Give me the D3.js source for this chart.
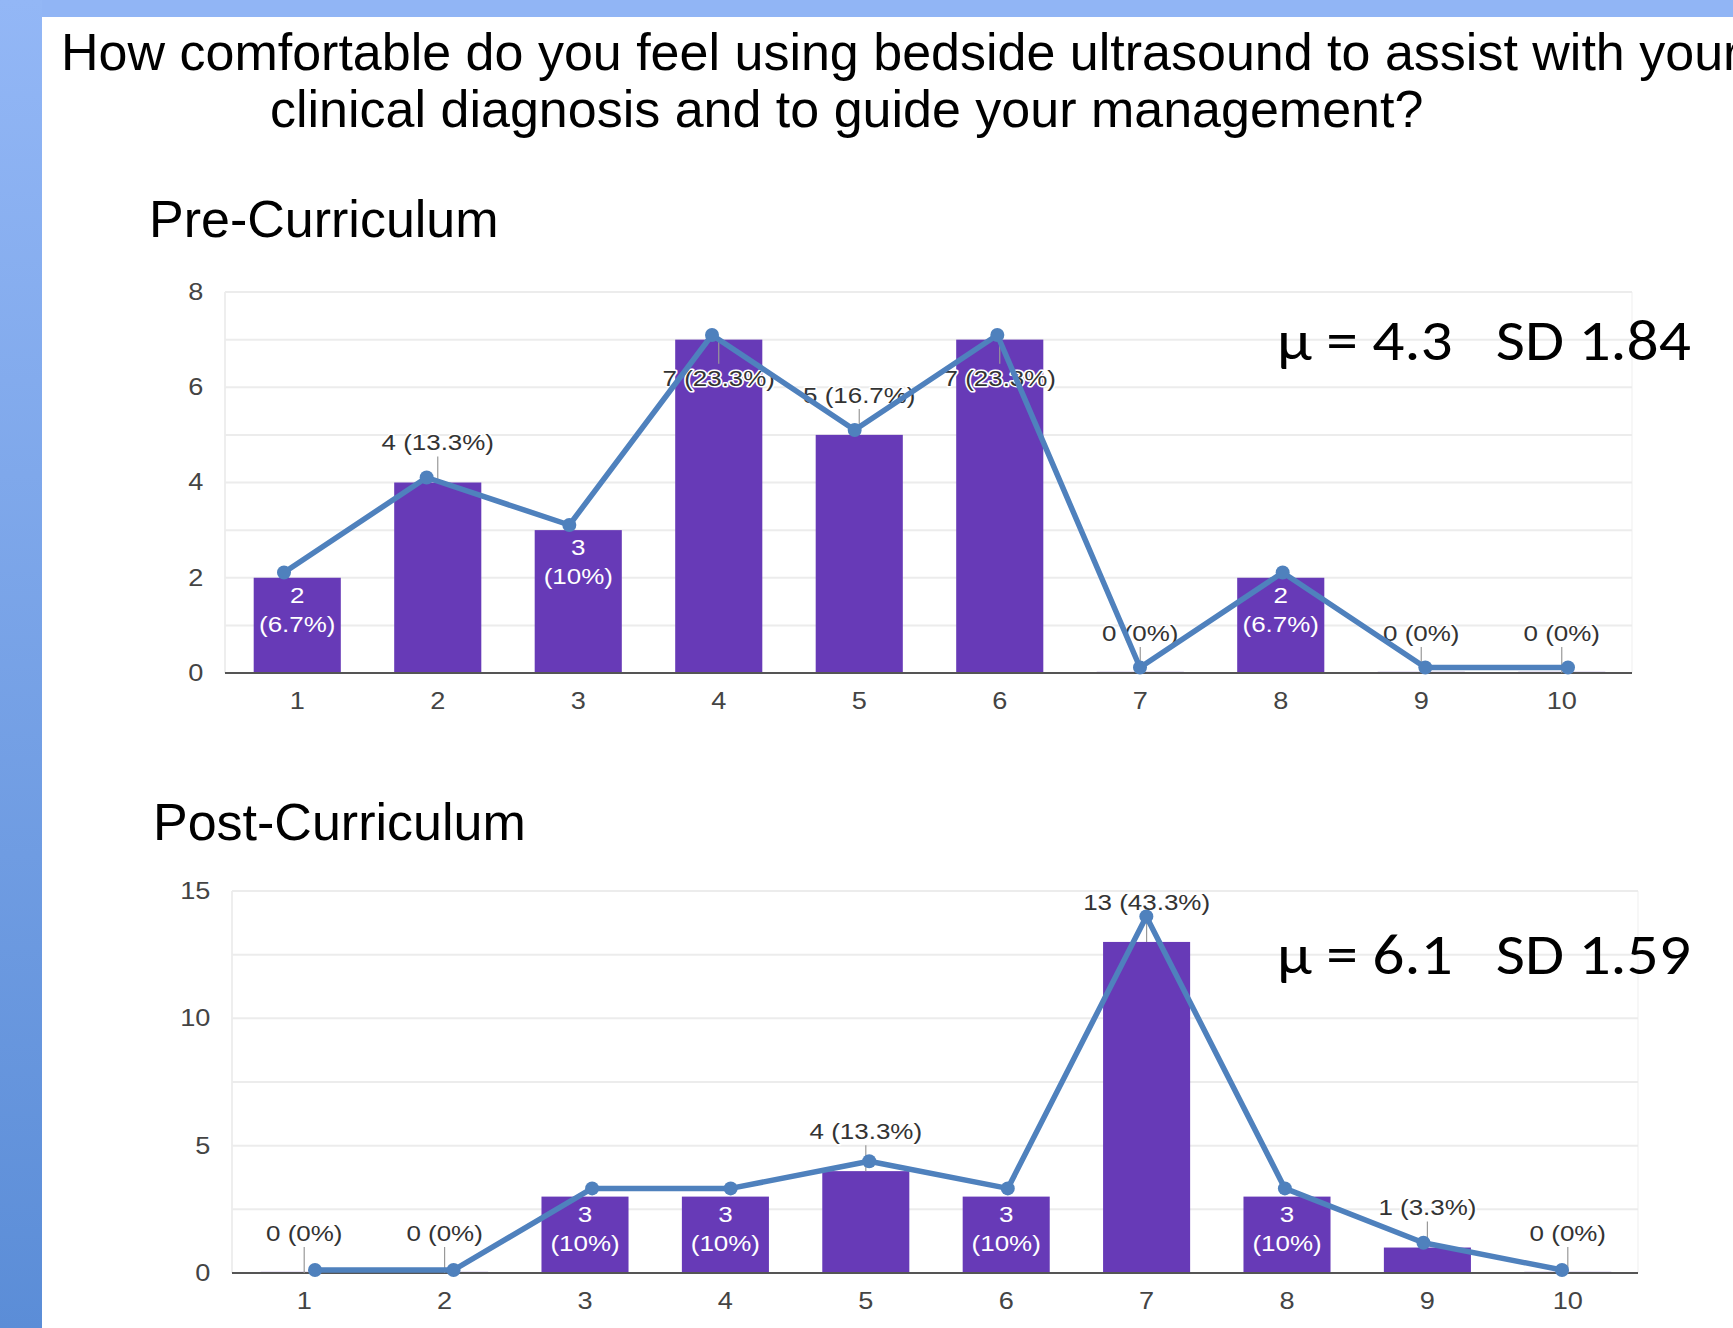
<!DOCTYPE html>
<html>
<head>
<meta charset="utf-8">
<script src="https://cdn.jsdelivr.net/npm/d3@7"></script>
<style>
body { margin: 0; background: #fff; }
svg text { font-family: "Liberation Sans", Arial, sans-serif; }
</style>
</head>
<body>
<div id="chart"></div>
<script>
// data
var ratings = ['1', '2', '3', '4', '5', '6', '7', '8', '9', '10'];
var preCounts = [2, 4, 3, 7, 5, 7, 0, 2, 0, 0];
var prePct = [6.7, 13.3, 10, 23.3, 16.7, 23.3, 0, 6.7, 0, 0];
var postCounts = [0, 0, 3, 3, 4, 3, 13, 3, 1, 0];
var postPct = [0, 0, 10, 10, 13.3, 10, 43.3, 10, 3.3, 0];
var preTicks = [0, 2, 4, 6, 8];
var postTicks = [0, 5, 10, 15];
var titleLines = ['How comfortable do you feel using bedside ultrasound to assist with your',
                  'clinical diagnosis and to guide your management?'];
var panelNames = ['Pre-Curriculum', 'Post-Curriculum'];
var stats = ['\u03bc = 4.3   SD 1.84', '\u03bc = 6.1   SD 1.59'];

var W = 1733, H = 1328;
var barColor = '#673ab7', lineColor = '#4f81bd';
var sx = 1.18; // chart screenshot was stretched sideways

var svg = d3.select('#chart').append('svg')
    .attr('width', W)
    .attr('height', H);

// slide background
var grad = svg.append('defs').append('linearGradient')
    .attr('id', 'band').attr('x1', 0).attr('y1', 0).attr('x2', 0).attr('y2', 1);
grad.append('stop').attr('offset', 0).attr('stop-color', '#93b7f6');
grad.append('stop').attr('offset', 1).attr('stop-color', '#5b8dd7');

svg.append('rect').attr('width', W).attr('height', 17).attr('fill', '#91b5f5');
svg.append('rect').attr('width', 42).attr('height', H).attr('fill', 'url(#band)');

svg.append('text').attr('x', 61).attr('y', 70)
    .style('font-size', '52px').attr('fill', '#000').text(titleLines[0]);
svg.append('text').attr('x', 270).attr('y', 127)
    .style('font-size', '52px').attr('fill', '#000').text(titleLines[1]);

var panels = [
    { name: panelNames[0], counts: preCounts, pct: prePct, ticks: preTicks, max: 8, step: 1,
      stat: stats[0], left: 227, right: 1632, top: 292, bottom: 673,
      nameX: 149, nameY: 237, statY: 360, lineX: [284, 1568], lineY: [667.5, 287.5] },
    { name: panelNames[1], counts: postCounts, pct: postPct, ticks: postTicks, max: 15, step: 2.5,
      stat: stats[1], left: 234, right: 1638, top: 891, bottom: 1273,
      nameX: 153, nameY: 840, statY: 974, lineX: [315, 1562], lineY: [1270, 862] }
];

function addLabel(g, x, y, str, fill, halo) {
    var t = g.append('text')
        .attr('transform', 'translate(' + x + ',' + y + ') scale(' + sx + ',1)')
        .attr('text-anchor', 'middle')
        .attr('dy', '0.36em')
        .style('font-size', '22px')
        .attr('fill', fill)
        .text(str);
    if (halo) {
        t.attr('stroke', halo).attr('stroke-width', 3)
            .attr('paint-order', 'stroke').attr('stroke-linejoin', 'round');
    }
    return t;
}

panels.forEach(function (p) {
    var data = ratings.map(function (r, i) {
        return { r: r, v: p.counts[i], pct: p.pct[i] };
    });

    svg.append('text').attr('x', p.nameX).attr('y', p.nameY)
        .style('font-size', '52px').attr('fill', '#000').text(p.name);

    var x = d3.scaleBand().domain(ratings)
        .range([p.left, p.right])
        .paddingInner(0.38).paddingOuter(0.19);
    var y = d3.scaleLinear().domain([0, p.max]).range([p.bottom, p.top]);

    // the hand-drawn trend line sits a little off the bars
    var lx = d3.scaleLinear().domain([1, 10]).range(p.lineX);
    var ly = d3.scaleLinear().domain([0, p.max]).range(p.lineY);

    var g = svg.append('g');

    // frame + gridlines
    g.append('line').attr('x1', p.left - 2).attr('x2', p.left - 2)
        .attr('y1', p.top).attr('y2', p.bottom).attr('stroke', '#eeeeee').attr('stroke-width', 2);
    g.append('line').attr('x1', p.right).attr('x2', p.right)
        .attr('y1', p.top).attr('y2', p.bottom).attr('stroke', '#f4f4f4').attr('stroke-width', 1.5);
    g.selectAll('.grid')
        .data(d3.range(p.step, p.max + 0.01, p.step))
        .enter().append('line')
        .attr('class', 'grid')
        .attr('x1', p.left - 2).attr('x2', p.right)
        .attr('y1', function (d) { return y(d); })
        .attr('y2', function (d) { return y(d); })
        .attr('stroke', '#ececec').attr('stroke-width', 2);

    // bars
    g.selectAll('.bar')
        .data(data)
        .enter().append('rect')
        .attr('class', 'bar')
        .attr('x', function (d) { return x(d.r); })
        .attr('y', function (d) { return d.v > 0 ? y(d.v) : y(0) - 2; })
        .attr('width', x.bandwidth())
        .attr('height', function (d) { return d.v > 0 ? y(0) - y(d.v) : 2; })
        .attr('fill', function (d) { return d.v > 0 ? barColor : '#ebe5f5'; });

    // axes
    var yAxis = d3.axisLeft(y).tickValues(p.ticks).tickSize(0).tickPadding(20);
    var ya = g.append('g').attr('transform', 'translate(' + p.left + ',0)').call(yAxis);
    ya.select('.domain').remove();
    ya.selectAll('text')
        .attr('transform', 'scale(' + sx + ',1)')
        .style('font-family', '"Liberation Sans", Arial, sans-serif')
        .style('font-size', '23px').attr('fill', '#444');

    var xAxis = d3.axisBottom(x).tickSize(0).tickPadding(20);
    var xa = g.append('g').attr('transform', 'translate(0,' + p.bottom + ')').call(xAxis);
    xa.select('.domain').remove();
    xa.selectAll('text')
        .attr('transform', 'scale(' + sx + ',1)')
        .style('font-family', '"Liberation Sans", Arial, sans-serif')
        .style('font-size', '23px').attr('fill', '#444');

    g.append('line').attr('x1', p.left - 2).attr('x2', p.right)
        .attr('y1', y(0)).attr('y2', y(0))
        .attr('stroke', '#555').attr('stroke-width', 2);

    // value annotations
    data.forEach(function (d) {
        var cx = x(d.r) + x.bandwidth() / 2;
        var top = y(d.v);
        var h = y(0) - top;
        var pctStr = '(' + d.pct + '%)';
        if (pctStr.length <= 6 && h >= 60) {
            addLabel(g, cx, top + 17, String(d.v), '#fff');
            addLabel(g, cx, top + 46, pctStr, '#fff');
        } else if (top - 50 >= p.top) {
            g.append('line').attr('x1', cx).attr('x2', cx)
                .attr('y1', top).attr('y2', top - 26)
                .attr('stroke', '#999').attr('stroke-width', 1.2);
            addLabel(g, cx, top - 40, d.v + ' ' + pctStr, '#333', '#fff');
        } else {
            g.append('line').attr('x1', cx).attr('x2', cx)
                .attr('y1', top).attr('y2', top + 24)
                .attr('stroke', '#999').attr('stroke-width', 1.2);
            addLabel(g, cx, top + 38, d.v + ' ' + pctStr, '#333', '#fff');
        }
    });

    // trend line overlay
    var line = d3.line()
        .x(function (d, i) { return lx(i + 1); })
        .y(function (d) { return ly(d.v); });

    g.append('path').datum(data)
        .attr('d', line)
        .attr('fill', 'none')
        .attr('stroke', lineColor)
        .attr('stroke-width', 5.5)
        .attr('stroke-linejoin', 'round');

    g.selectAll('.dot')
        .data(data)
        .enter().append('circle')
        .attr('class', 'dot')
        .attr('cx', function (d, i) { return lx(i + 1); })
        .attr('cy', function (d) { return ly(d.v); })
        .attr('r', 7)
        .attr('fill', lineColor);

    svg.append('text')
        .attr('x', 1277).attr('y', p.statY)
        .attr('textLength', 414).attr('lengthAdjust', 'spacingAndGlyphs')
        .style('font-family', 'Carlito, Calibri, Lato, sans-serif')
        .style('font-size', '57px')
        .style('white-space', 'pre')
        .attr('fill', '#000')
        .text(p.stat);
});
</script>
</body>
</html>
